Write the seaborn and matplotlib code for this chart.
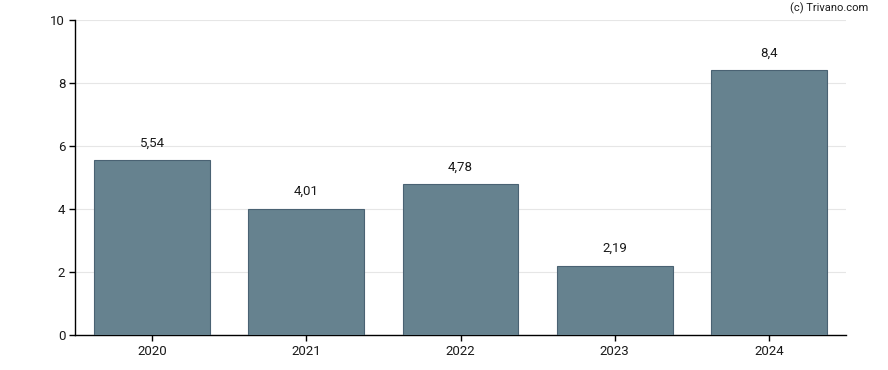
import matplotlib
matplotlib.use("Agg")
import matplotlib.pyplot as plt
import seaborn as sns
import pandas as pd

years = ["2020", "2021", "2022", "2023", "2024"]
values = [5.54, 4.01, 4.78, 2.19, 8.4]
labels = ["5,54", "4,01", "4,78", "2,19", "8,4"]
yticks = [0, 2, 4, 6, 8, 10]

sns.set_theme(style="white")
plt.rcParams['font.family'] = ['Roboto', 'DejaVu Sans']

df = pd.DataFrame({"year": years, "value": values})
fig = plt.figure(figsize=(8.88, 3.7), dpi=100)
ax = fig.add_axes([75/888, 1-335/370, 771/888, 315/370])
sns.barplot(data=df, x="year", y="value", color="#66828f", saturation=1,
            width=0.75, edgecolor="#4a6273", linewidth=0.8, ax=ax, zorder=3)
ax.set_ylim(0, 10)
ax.set_yticks(yticks)
ax.set_yticklabels([str(t) for t in yticks])
ax.set_xlim(-0.5, 4.5)
ax.yaxis.grid(True, color="#e6e6e6", linewidth=0.8, zorder=0)
ax.set_axisbelow(True)
for s in ["top", "right"]:
    ax.spines[s].set_visible(False)
for s in ["left", "bottom"]:
    ax.spines[s].set_color("black")
    ax.spines[s].set_linewidth(1)
ax.tick_params(axis="both", which="both", length=4, width=1, color="black",
               labelsize=9.5, labelcolor="#1a1a1a", bottom=True, left=True, pad=3)
ax.set_xlabel("")
ax.set_ylabel("")
for i, (v, l) in enumerate(zip(values, labels)):
    ax.annotate(l, (i, v), xytext=(0, 8), textcoords="offset points",
                ha="center", va="bottom", fontsize=9.5, color="#1a1a1a")
fig.text(868/888, 1-8/370, "(c) Trivano.com", ha="right", va="center",
         fontsize=8, color="#1a1a1a")
fig.savefig("out.png", dpi=100)
